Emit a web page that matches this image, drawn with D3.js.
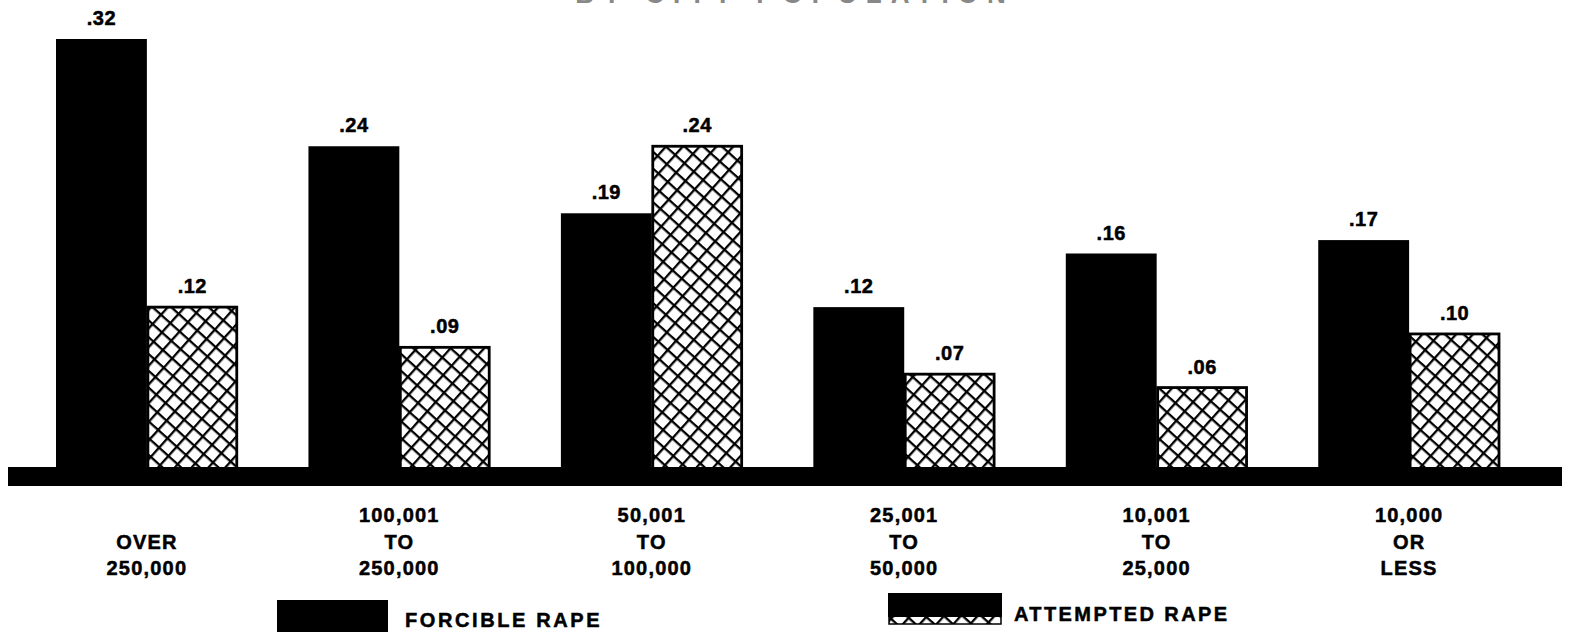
<!DOCTYPE html>
<html>
<head>
<meta charset="utf-8">
<script src="https://cdn.jsdelivr.net/npm/d3@7"></script>
<style>
  body { margin: 0; background: #fff; }
  svg { display: block; }
  text { font-family: "Liberation Sans", Arial, sans-serif; font-weight: bold; fill: #000; stroke: #000; stroke-width: 0.5px; }
</style>
</head>
<body>
<svg id="chart"></svg>
<script>
const width = 1570;
const height = 632;

// data
const categories = ["over250k", "100k-250k", "50k-100k", "25k-50k", "10k-25k", "10kLess"];
const categoryLines = [
  ["OVER", "250,000"],
  ["100,001", "TO", "250,000"],
  ["50,001", "TO", "100,000"],
  ["25,001", "TO", "50,000"],
  ["10,001", "TO", "25,000"],
  ["10,000", "OR", "LESS"],
];
const series = ["forcible", "attempted"];
const seriesNames = ["FORCIBLE RAPE", "ATTEMPTED RAPE"];
const forcible = [0.32, 0.24, 0.19, 0.12, 0.16, 0.17];
const attempted = [0.12, 0.09, 0.24, 0.07, 0.06, 0.10];

const rows = categories.map((c, i) => ({ cat: c, forcible: forcible[i], attempted: attempted[i] }));

const svg = d3.select("#chart").attr("width", width).attr("height", height);

// crosshatch pattern
const cell = 12.5;
const defs = svg.append("defs");
const pat = defs
  .append("pattern")
  .attr("id", "hatch")
  .attr("patternUnits", "userSpaceOnUse")
  .attr("width", cell)
  .attr("height", cell)
  .attr("patternTransform", "rotate(42)");
pat.append("rect").attr("width", cell).attr("height", cell).attr("fill", "#fff");
pat.append("rect").attr("width", 2.3).attr("height", cell).attr("fill", "#000");
pat.append("rect").attr("width", cell).attr("height", 2.3).attr("fill", "#000");

const x0 = d3.scaleBand().domain(categories).range([56, 1500]).paddingInner(0.28).paddingOuter(0);
const x1 = d3.scaleBand().domain(series).range([0, x0.bandwidth()]).padding(0);
const y = d3.scaleLinear().domain([0, 0.32]).range([468, 39]);

const fmt = (v) => d3.format(".2f")(v).replace(/^0/, "");

// title, mostly cut off at the top edge (as in the scan)
svg
  .append("text")
  .attr("x", 795)
  .attr("y", 3)
  .attr("text-anchor", "middle")
  .style("font-size", "26px")
  .style("letter-spacing", "9px")
  .style("fill", "#888")
  .style("stroke", "none")
  .text("BY CITY POPULATION");

const groups = svg
  .append("g")
  .selectAll("g")
  .data(rows)
  .join("g")
  .attr("transform", (d) => `translate(${x0(d.cat)},0)`);

groups
  .selectAll("rect")
  .data((d) => series.map((k) => ({ key: k, value: d[k] })))
  .join("rect")
  .attr("x", (d) => x1(d.key) + (d.key === "attempted" ? 1 : 0))
  .attr("y", (d) => y(d.value))
  .attr("width", (d) => x1.bandwidth() - (d.key === "attempted" ? 2 : 0))
  .attr("height", (d) => y(0) - y(d.value) + 4)
  .attr("fill", (d) => (d.key === "forcible" ? "#000" : "url(#hatch)"))
  .attr("stroke", (d) => (d.key === "forcible" ? "none" : "#000"))
  .attr("stroke-width", 2.8);

groups
  .selectAll("text.val")
  .data((d) => series.map((k) => ({ key: k, value: d[k] })))
  .join("text")
  .attr("class", "val")
  .attr("x", (d) => x1(d.key) + x1.bandwidth() / 2)
  .attr("y", (d) => y(d.value) - 14)
  .attr("text-anchor", "middle")
  .style("font-size", "20px")
  .style("letter-spacing", "0.5px")
  .text((d) => fmt(d.value));

// thick baseline band
svg.append("rect").attr("x", 8).attr("y", 467).attr("width", 1554).attr("height", 19).attr("fill", "#000");

// category labels, bottom aligned
const lineBases = [522, 549, 575];
const labels = svg
  .append("g")
  .selectAll("text")
  .data(categories)
  .join("text")
  .attr("text-anchor", "middle")
  .style("font-size", "20px")
  .style("letter-spacing", "1.2px");

labels.each(function (c, i) {
  const lines = categoryLines[i];
  const start = lineBases.length - lines.length;
  d3.select(this)
    .selectAll("tspan")
    .data(lines)
    .join("tspan")
    .attr("x", x0(c) + x0.bandwidth() / 2)
    .attr("y", (d, j) => lineBases[start + j])
    .text((d) => d);
});

// legend
const lg = svg.append("g");
lg.append("rect").attr("x", 277).attr("y", 600).attr("width", 111).attr("height", 40).attr("fill", "#000");
lg.append("text")
  .attr("x", 405)
  .attr("y", 627)
  .style("font-size", "20px")
  .style("letter-spacing", "2.6px")
  .text(seriesNames[0]);

lg.append("rect")
  .attr("x", 889)
  .attr("y", 615)
  .attr("width", 112)
  .attr("height", 9)
  .attr("fill", "url(#hatch)")
  .attr("stroke", "#000")
  .attr("stroke-width", 1.5);
lg.append("rect").attr("x", 888).attr("y", 593).attr("width", 114).attr("height", 24).attr("fill", "#000");
lg.append("text")
  .attr("x", 1014)
  .attr("y", 621)
  .style("font-size", "20px")
  .style("letter-spacing", "2.4px")
  .text(seriesNames[1]);
</script>
</body>
</html>
